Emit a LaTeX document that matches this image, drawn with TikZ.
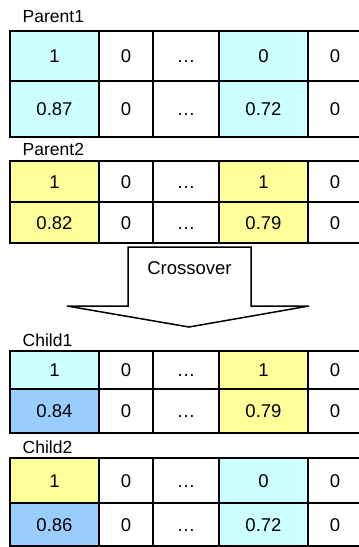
\documentclass[tikz,border=0pt]{standalone}
\usepackage{fontspec}
\setmainfont{Liberation Sans}
\definecolor{genecyan}{HTML}{CCFFFF}
\definecolor{geneyellow}{HTML}{FFFF99}
\definecolor{geneblue}{HTML}{99CCFF}
\tikzset{
  cell/.style={draw=black, line width=2pt, rectangle, inner sep=0pt, outer sep=0pt,
    fill=white, font=\fontsize{18.5}{20}\selectfont, text height=13.2pt, text depth=0pt},
  rowtitle/.style={inner sep=0pt, anchor=west, font=\fontsize{17.5}{19}\selectfont},
  bigarrow/.style={draw=black, line width=1.5pt, fill=white, line join=miter},
}
% one row of a chromosome table: name, top, bottom, fill/text of first cell, fill/text of fourth cell
\newcommand\generow[7]{%
  \node[cell, fill=#4, minimum width=89pt, minimum height={#3pt-#2pt}] (#1-1) at (54.5,{(#2+#3)/2}) {#5};
  \node[cell, minimum width=54pt, minimum height={#3pt-#2pt}] (#1-2) at (126,{(#2+#3)/2}) {0};
  \node[cell, minimum width=66pt, minimum height={#3pt-#2pt}] (#1-3) at (186,{(#2+#3)/2}) {…};
  \node[cell, fill=#6, minimum width=89pt, minimum height={#3pt-#2pt}] (#1-4) at (263.5,{(#2+#3)/2}) {#7};
  \node[cell, minimum width=54pt, minimum height={#3pt-#2pt}] (#1-5) at (335,{(#2+#3)/2}) {0};
}
\begin{document}
\begin{tikzpicture}[x=1pt, y=-1pt]
  \useasboundingbox (0,0) rectangle (359,547);

  % Parent1
  \node[rowtitle] (parent1) at (22.5,17) {Parent1};
  \generow{pa}{31}{81}{genecyan}{1}{genecyan}{0}
  \generow{pb}{81}{137}{genecyan}{0.87}{genecyan}{0.72}

  % Parent2
  \node[rowtitle] (parent2) at (22.5,149) {Parent2};
  \generow{qa}{161}{202}{geneyellow}{1}{geneyellow}{1}
  \generow{qb}{202}{243}{geneyellow}{0.82}{geneyellow}{0.79}

  % crossover arrow
  \draw[bigarrow] (128,247) -- (251,247) -- (251,306) -- (309,306) -- (189,327)
    -- (67,306) -- (128,306) -- cycle;
  \node[font=\fontsize{18.5}{20}\selectfont, inner sep=0pt] (xover) at (189.5,268) {Crossover};

  % Child1
  \node[rowtitle] (child1) at (22.5,340) {Child1};
  \generow{ca}{351}{389}{genecyan}{1}{geneyellow}{1}
  \generow{cb}{389}{433}{geneblue}{0.84}{geneyellow}{0.79}

  % Child2
  \node[rowtitle] (child2) at (22.5,447) {Child2};
  \generow{da}{458}{503}{geneyellow}{1}{genecyan}{0}
  \generow{db}{503}{546}{geneblue}{0.86}{genecyan}{0.72}
\end{tikzpicture}
\end{document}
